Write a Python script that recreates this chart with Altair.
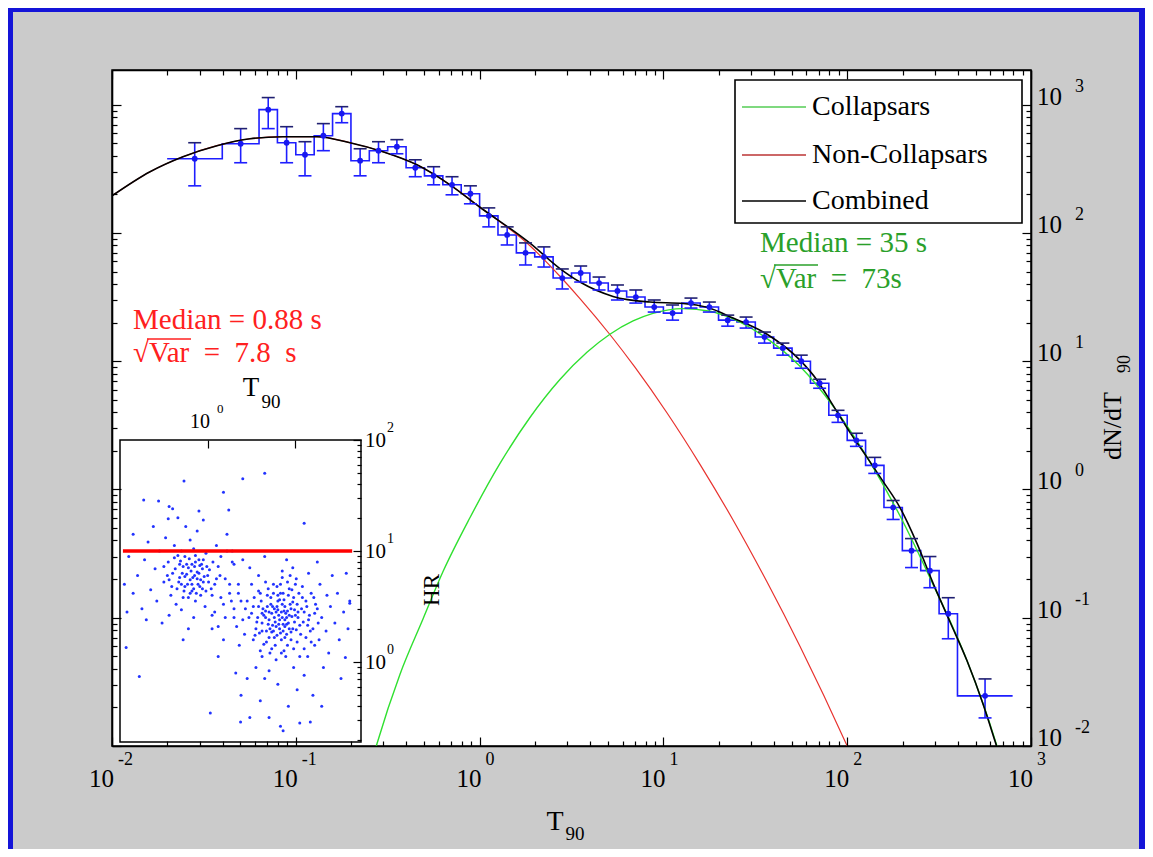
import altair as alt
import pandas as pd

SERIF = "Liberation Serif"
W, H = 919, 676          # plot area in pixels

BLUE = "#1e1eff"
PT_BLUE = "#1818f0"
RED_CURVE = "#e8322e"
GREEN_CURVE = "#30e030"
GREEN_TXT = "#2aa02a"
RED_TXT = "#ff2020"
PAGE_GRAY = "#cbcbcb"
FRAME_BLUE = "#1414d8"
SP = "\u2002"            # en space, keeps the wide spacing of the original annotations

# ---------------- histogram (log10 values) ----------------
bin_edges_log10 = [-1.7, -1.4, -1.2, -1.1, -1.0, -0.9, -0.8, -0.7, -0.6, -0.5, -0.4, -0.3,
                   -0.2, -0.1, 0.0, 0.1, 0.2, 0.3, 0.4, 0.5, 0.6, 0.7, 0.8, 0.9, 1.0, 1.1,
                   1.2, 1.3, 1.4, 1.5, 1.6, 1.7, 1.8, 1.9, 2.0, 2.1, 2.2, 2.3, 2.4, 2.5, 2.6, 2.9]
bin_centers_log10 = [-1.55, -1.3, -1.15, -1.05, -0.95, -0.85, -0.75, -0.65, -0.55, -0.45, -0.35,
                     -0.25, -0.15, -0.05, 0.05, 0.15, 0.25, 0.35, 0.45, 0.55, 0.65, 0.75, 0.85,
                     0.95, 1.05, 1.15, 1.25, 1.35, 1.45, 1.55, 1.65, 1.75, 1.85, 1.95, 2.05, 2.15,
                     2.25, 2.35, 2.45, 2.55, 2.75]
rate_log10 = [2.578, 2.695, 2.961, 2.703, 2.609, 2.758, 2.930, 2.563, 2.641, 2.672, 2.508,
              2.445, 2.375, 2.305, 2.133, 1.984, 1.844, 1.813, 1.648, 1.688, 1.609, 1.547, 1.500,
              1.422, 1.375, 1.453, 1.422, 1.320, 1.305, 1.188, 1.102, 1.000, 0.828, 0.578, 0.383,
              0.188, -0.141, -0.477, -0.633, -0.969, -1.609]
rate_hi_log10 = [2.703, 2.813, 3.055, 2.828, 2.711, 2.852, 2.984, 2.656, 2.711, 2.727, 2.570,
                 2.516, 2.438, 2.367, 2.195, 2.047, 1.922, 1.891, 1.719, 1.742, 1.656, 1.594, 1.555,
                 1.477, 1.438, 1.492, 1.461, 1.359, 1.344, 1.227, 1.141, 1.047, 0.859, 0.617, 0.438,
                 0.250, -0.086, -0.383, -0.523, -0.844, -1.477]
rate_lo_log10 = [2.367, 2.547, 2.813, 2.547, 2.445, 2.641, 2.859, 2.445, 2.547, 2.617, 2.438,
                 2.375, 2.297, 2.227, 2.047, 1.906, 1.750, 1.734, 1.563, 1.617, 1.555, 1.477, 1.453,
                 1.383, 1.320, 1.414, 1.383, 1.273, 1.258, 1.141, 1.047, 0.945, 0.789, 0.523, 0.336,
                 0.125, -0.234, -0.609, -0.766, -1.164, -1.781]

# ---------------- model curves (log10 T90, log10 dN/dT90) ----------------
combined_log_t = [-2.0, -1.793, -1.614, -1.429, -1.249, -1.070, -0.885, -0.705, -0.526, -0.341,
                  -0.161, 0.002, 0.274, 0.437, 0.546, 0.726, 0.927, 1.107, 1.237, 1.379, 1.564,
                  1.743, 1.836, 1.923, 2.015, 2.108, 2.195, 2.287, 2.380, 2.467, 2.559, 2.652,
                  2.739, 2.804, 2.85]
combined_log_n = [2.289, 2.477, 2.594, 2.680, 2.734, 2.750, 2.750, 2.703, 2.633, 2.531, 2.375,
                  2.200, 1.920, 1.722, 1.617, 1.505, 1.461, 1.450, 1.420, 1.336, 1.210, 1.008,
                  0.852, 0.656, 0.445, 0.250, 0.063, -0.141, -0.422, -0.730, -1.031, -1.336,
                  -1.672, -1.961, -2.17]
noncoll_log_t = [-2.0, -1.793, -1.614, -1.429, -1.249, -1.070, -0.885, -0.705, -0.526, -0.341,
                 -0.161, 0.002, 0.274, 0.437, 0.546, 0.709, 0.845, 1.02, 1.199, 1.379, 1.564,
                 1.743, 2.0, 2.05]
noncoll_log_n = [2.289, 2.477, 2.594, 2.680, 2.734, 2.750, 2.750, 2.703, 2.633, 2.531, 2.375,
                 2.200, 1.900, 1.662, 1.488, 1.208, 0.953, 0.596, 0.196, -0.238, -0.722, -1.222,
                 -2.0, -2.16]
coll_log_t = [-0.60, -0.558, -0.433, -0.308, -0.199, -0.052, 0.111, 0.274, 0.437, 0.584, 0.709,
              0.835, 0.943, 1.107, 1.254, 1.379, 1.564, 1.743, 1.923, 2.108, 2.287, 2.467, 2.652,
              2.804, 2.85]
coll_log_n = [-2.19, -1.98, -1.44, -1.01, -0.64, -0.219, 0.203, 0.561, 0.857, 1.069, 1.210,
              1.314, 1.373, 1.410, 1.389, 1.330, 1.176, 0.960, 0.650, 0.252, -0.205, -0.740, -1.336,
              -1.95, -2.17]

# ---------------- inset: log10 T90 vs log10 HR ----------------
short_log_t90 = [-0.15, -0.22, -0.05, -0.30, -0.10, -0.40, 0.02, -0.18, -0.26, -0.08,
                 -0.35, -0.12, -0.20, 0.08, -0.45, -0.02, -0.28, -0.16, 0.12, -0.50,
                 -0.38, -0.06, -0.24, 0.05, -0.60, -0.14, -0.32, 0.15, -0.42, -0.09,
                 -0.55, -0.20, 0.20, -0.65, -0.03, -0.30, 0.10, -0.48, -0.72, 0.25,
                 -0.12, -0.36, -0.80, 0.00, -0.25, 0.18, -0.58, -0.44, 0.30, -0.68,
                 -0.85, -0.05, -0.16, 0.28, -0.52, -0.90, 0.35, -0.75, -0.34, 0.05,
                 -0.62, 0.22, -0.95, -0.22, 0.38, -0.40, -0.10, -0.70, 0.40, -0.85,
                 -0.28, 0.12, -0.56, 0.30, -0.92, -0.18, -0.32, -0.08, -0.44, 0.06,
                 -0.26, -0.14, -0.38, -0.02, -0.22, 0.14, -0.50, -0.30, -0.06, -0.18,
                 -0.17, -0.24, -0.11, -0.29, -0.07, -0.33, -0.13, -0.21, -0.04, -0.27,
                 -0.19, -0.09, -0.31, -0.15, 0.01, -0.23, -0.37, -0.12, -0.26, -0.05,
                 -0.41, -0.16, -0.01, -0.20, -0.34, -0.10, 0.04, -0.28, -0.46, -0.14]
short_log_hr = [0.78, 0.85, 0.72, 0.70, 0.92, 0.80, 0.83, 0.64, 0.95, 0.60,
                0.66, 0.81, 0.74, 0.70, 0.90, 0.98, 0.58, 1.02, 0.86, 0.72,
                1.05, 0.66, 0.79, 0.60, 0.84, 0.55, 0.88, 0.95, 0.60, 0.87,
                1.00, 1.10, 0.75, 0.65, 0.50, 0.47, 1.05, 1.12, 0.92, 0.62,
                1.18, 0.52, 0.78, 0.78, 1.22, 0.52, 0.55, 0.42, 0.88, 1.08,
                0.62, 1.28, 0.40, 1.00, 0.35, 0.95, 0.70, 0.48, 1.30, 0.42,
                1.22, 1.15, 0.70, 0.30, 0.55, 1.38, 1.36, 0.38, 0.92, 1.15,
                0.20, 0.32, 1.45, 0.40, 0.45, 0.88, 0.76, 0.74, 0.74, 0.90,
                0.68, 0.96, 0.94, 0.64, 0.58, 0.78, 0.86, 1.00, 0.84, 0.70,
                0.76, 0.88, 0.70, 0.80, 0.88, 0.72, 0.62, 0.93, 0.77, 0.64,
                0.82, 0.68, 0.91, 0.86, 0.72, 0.70, 0.84, 0.75, 0.77, 0.92,
                0.68, 0.66, 0.86, 0.62, 0.96, 0.80, 0.66, 0.86, 0.78, 0.90]
long_log_t90 = [0.85, 0.78, 0.92, 0.70, 1.00, 0.82, 0.88, 0.75, 0.95, 0.66,
                1.05, 0.80, 0.90, 0.72, 1.10, 0.62, 0.98, 0.84, 0.68, 1.15,
                0.76, 0.93, 0.86, 0.80, 0.97, 0.74, 0.89, 1.02, 0.64, 0.83,
                1.20, 0.58, 0.91, 1.08, 0.70, 0.55, 1.25, 0.79, 0.96, 1.12,
                0.60, 0.50, 1.30, 0.87, 0.73, 1.18, 0.45, 1.00, 0.66, 1.35,
                0.52, 1.22, 0.40, 0.94, 1.40, 0.78, 0.35, 1.05, 0.58, 1.28,
                0.42, 1.45, 0.30, 0.85, 0.62, 1.15, 1.50, 0.25, 0.98, 0.48,
                1.38, 0.20, 1.55, 0.70, 0.36, 1.25, 0.15, 1.10, 0.55, 1.48,
                0.28, 0.90, 1.60, 0.10, 0.80, 1.32, 0.45, 1.62, 0.18, 1.02,
                0.65, 1.42, 0.08, 0.38, 1.20, 0.92, 0.60, 0.70, 1.05, 0.48,
                0.86, 1.30, 0.32, 1.52, 0.22, 0.05, 1.58, 0.12, 0.82, 0.88,
                0.76, 0.94, 0.71, 1.03, 0.87, 0.79, 0.99, 0.68, 0.84, 0.90,
                0.81, 0.77, 0.95, 1.07, 0.73, 0.86, 0.92, 0.62, 1.12, 0.57,
                1.17, 0.67, 1.02, 0.83, 0.53, 1.22, 0.89, 0.75, 0.60, 0.43,
                1.27, 0.97, 0.33, 1.36, 0.50, 1.14, 0.65, 0.27,
                0.81, 0.74, 0.91, 0.69, 1.01, 0.85, 0.78, 0.96, 0.63, 1.09,
                0.88, 0.72, 1.04, 0.59, 0.93, 0.77, 1.13, 0.66, 0.83, 0.99,
                0.86, 0.70, 1.06, 0.61, 0.90, 0.75, 1.16, 0.56, 0.95, 0.80,
                1.21, 0.64, 0.87, 1.01, 0.73, 0.52, 1.10, 0.84, 0.69, 0.97,
                1.26, 0.47, 0.91, 0.79, 1.03, 0.58, 1.18, 0.67, 0.88, 0.76,
                0.93, 1.08, 0.62, 0.82, 1.14, 0.71, 0.98, 0.54, 1.23, 0.85]
long_log_hr = [0.40, 0.45, 0.35, 0.38, 0.42, 0.30, 0.50, 0.28, 0.48, 0.46,
               0.33, 0.55, 0.25, 0.52, 0.45, 0.35, 0.58, 0.20, 0.60, 0.38,
               0.40, 0.42, 0.34, 0.47, 0.30, 0.33, 0.44, 0.52, 0.42, 0.62,
               0.30, 0.50, 0.15, 0.58, 0.22, 0.30, 0.48, 0.68, 0.65, 0.22,
               0.62, 0.44, 0.40, 0.10, 0.12, 0.62, 0.55, 0.70, 0.72, 0.28,
               0.20, 0.15, 0.38, 0.78, 0.50, 0.02, 0.62, 0.05, 0.78, 0.70,
               0.25, 0.35, 0.48, 0.82, 0.05, 0.80, 0.20, 0.70, -0.05, 0.85,
               0.08, 0.40, 0.45, -0.08, 0.15, 0.90, 0.58, -0.12, -0.05, 0.62,
               0.90, 0.92, 0.30, 0.75, -0.20, -0.05, -0.15, 0.55, 0.20, -0.25,
               0.95, 0.78, 0.45, -0.30, -0.30, -0.40, -0.35, -0.50, -0.55, -0.50,
               -0.62, -0.40, -0.10, -0.15, 1.00, 0.30, 0.80, 0.05, 0.38, 0.32,
               0.48, 0.52, 0.30, 0.40, 0.56, 0.24, 0.36, 0.50, 0.45, 0.40,
               0.34, 0.36, 0.27, 0.48, 0.44, 0.28, 0.60, 0.28, 0.55, 0.40,
               0.28, 0.18, 0.18, 0.70, 0.58, 0.44, 0.05, 0.62, 0.10, 0.48,
               0.20, 0.85, 0.32, 0.60, 0.70, 0.05, -0.15, 0.55,
               0.42, 0.50, 0.46, 0.34, 0.29, 0.52, 0.32, 0.41, 0.48, 0.36,
               0.22, 0.58, 0.62, 0.26, 0.66, 0.15, 0.50, 0.40, 0.26, 0.47,
               0.62, 0.45, 0.25, 0.55, 0.34, 0.70, 0.42, 0.36, 0.20, 0.60,
               0.58, 0.16, 0.46, 0.75, 0.27, 0.50, 0.12, 0.08, 0.66, 0.54,
               0.35, 0.40, 0.72, 0.50, 0.45, 0.64, 0.18, 0.28, 0.38, 0.22,
               0.30, 0.68, 0.44, 0.56, 0.33, 0.08, 0.12, 0.24, 0.52, 0.76]
outlier_log_t90 = [-0.27, 0.40, 0.65, 0.18, -0.73, 1.10, -0.78, 0.03, 0.375, 0.83, 1.17,
                   -0.45, -0.44, 1.62, -0.93, 1.57, 0.24]
outlier_log_hr = [1.63, 1.65, 1.70, 1.53, 1.46, 1.25, -0.13, -0.46, -0.54, -0.58, -0.54,
                  1.29, 1.40, 0.53, 0.13, 0.04, 1.37]
hr_cut = 10.0
hr_cut_t90 = [0.108, 44.4]

# ---------------- tick labels ----------------
major_values = [0.01, 0.1, 1, 10, 100, 1000]
major_exponents = ["-2", "-1", "0", "1", "2", "3"]
inset_hr_values = [1, 10, 100]
inset_hr_exponents = ["0", "1", "2"]
minor_values = [m * 10.0 ** k for k in range(-2, 3) for m in range(1, 10)] + [1000.0]
inset_hr_ticks = [m * 10.0 ** k for k in range(-1, 2) for m in range(1, 10)] + [100.0]
inset_hr_ticks = [v for v in inset_hr_ticks if v >= 0.19]


def p10(v):
    return [10.0 ** a for a in v]


step_df = pd.DataFrame({"t": p10(bin_edges_log10), "n": p10(rate_log10 + [rate_log10[-1]])})
err_df = pd.DataFrame({"t": p10(bin_centers_log10), "n": p10(rate_log10),
                       "lo": p10(rate_lo_log10), "hi": p10(rate_hi_log10)})
comb_df = pd.DataFrame({"t": p10(combined_log_t), "n": p10(combined_log_n)})
ncol_df = pd.DataFrame({"t": p10(noncoll_log_t), "n": p10(noncoll_log_n)})
coll_df = pd.DataFrame({"t": p10(coll_log_t), "n": p10(coll_log_n)})
inset_df = pd.DataFrame({"t": p10(short_log_t90 + long_log_t90 + outlier_log_t90),
                         "hr": p10(short_log_hr + long_log_hr + outlier_log_hr)})
cut_df = pd.DataFrame({"t0": [hr_cut_t90[0]], "t1": [hr_cut_t90[1]], "hr": [hr_cut]})
major_df = pd.DataFrame({"v": major_values, "e": major_exponents})
inset_lab_df = pd.DataFrame({"v": inset_hr_values, "e": inset_hr_exponents})
one = pd.DataFrame({"a": [0]})

xs = alt.Scale(type="log", domain=[0.01, 1000], nice=False)
ys = alt.Scale(type="log", domain=[0.01, 10 ** 3.27], nice=False)
xin = alt.Scale(type="log", domain=[0.1, 56], range=[8, 249], nice=False)
yin = alt.Scale(type="log", domain=[0.19, 100], range=[672, 370], nice=False)

MAJOR = "abs(log(datum.value)/LN10 - round(log(datum.value)/LN10)) < 0.001"


def tick_axis(orient, offset, values, major=9, minor=5, domain=True):
    return alt.Axis(orient=orient, offset=offset, values=values, labels=False, title=None,
                    grid=False, ticks=True, domain=domain, domainColor="black", domainWidth=1.6,
                    tickColor="black", tickWidth=1.2,
                    tickSize={"condition": {"test": MAJOR, "value": major}, "value": minor},
                    zindex=1)


def box(x, x2, y, y2, **kw):
    return alt.Chart(one).mark_rect(**kw).encode(
        x=alt.value(x), x2=alt.value(x2), y=alt.value(y), y2=alt.value(y2))


def hline(x, x2, y, color, width):
    return alt.Chart(one).mark_rule(color=color, strokeWidth=width).encode(
        x=alt.value(x), x2=alt.value(x2), y=alt.value(y))


def label(s, x, y, size, color="black", align="left", angle=0):
    kw = dict(text=s, font=SERIF, fontSize=size, color=color, align=align, baseline="middle")
    if angle:
        kw["angle"] = angle
    return alt.Chart(one).mark_text(**kw).encode(x=alt.value(x), y=alt.value(y))


# ---------------- main panel ----------------
step_line = alt.Chart(step_df).mark_line(interpolate="step-after", color=BLUE, strokeWidth=1.6,
                                         clip=True).encode(
    x=alt.X("t:Q", scale=xs, axis=tick_axis("top", -H, minor_values)),
    y=alt.Y("n:Q", scale=ys, axis=tick_axis("right", -W, minor_values)))
err_bars = alt.Chart(err_df).mark_rule(color=BLUE, strokeWidth=1.6).encode(
    x=alt.X("t:Q", scale=xs, axis=tick_axis("bottom", -H, minor_values)),
    y=alt.Y("lo:Q", scale=ys, axis=tick_axis("left", -W, minor_values)),
    y2="hi:Q")
cap_hi = alt.Chart(err_df).mark_tick(orient="horizontal", size=13, thickness=1.6,
                                     color="#202070", opacity=1).encode(
    x=alt.X("t:Q", scale=xs, axis=None), y=alt.Y("hi:Q", scale=ys, axis=None))
cap_lo = alt.Chart(err_df).mark_tick(orient="horizontal", size=13, thickness=1.6,
                                     color=BLUE, opacity=1).encode(
    x=alt.X("t:Q", scale=xs, axis=None), y=alt.Y("lo:Q", scale=ys, axis=None))
pts = alt.Chart(err_df).mark_circle(size=34, color=PT_BLUE, opacity=1).encode(
    x=alt.X("t:Q", scale=xs, axis=None), y=alt.Y("n:Q", scale=ys, axis=None))


def curve(df, color, width):
    return alt.Chart(df).mark_line(color=color, strokeWidth=width, interpolate="monotone",
                                   clip=True).encode(
        x=alt.X("t:Q", scale=xs, axis=None), y=alt.Y("n:Q", scale=ys, axis=None))


red_c = curve(ncol_df, RED_CURVE, 1.2)
green_c = curve(coll_df, GREEN_CURVE, 1.4)
black_c = curve(comb_df, "black", 1.6)

x10 = alt.Chart(major_df).mark_text(text="10", font=SERIF, fontSize=25, align="right",
                                    baseline="middle", dx=2).encode(
    x=alt.X("v:Q", scale=xs, axis=None), y=alt.value(H + 33))
xexp = alt.Chart(major_df).mark_text(font=SERIF, fontSize=18, align="left",
                                     baseline="middle", dx=6).encode(
    x=alt.X("v:Q", scale=xs, axis=None), y=alt.value(H + 14), text="e:N")
y10 = alt.Chart(major_df).mark_text(text="10", font=SERIF, fontSize=25, align="left",
                                    baseline="middle", dy=-8).encode(
    x=alt.value(W + 6), y=alt.Y("v:Q", scale=ys, axis=None))
yexp = alt.Chart(major_df).mark_text(font=SERIF, fontSize=18, align="left",
                                     baseline="middle", dy=-18).encode(
    x=alt.value(W + 44), y=alt.Y("v:Q", scale=ys, axis=None), text="e:N")

main = alt.layer(step_line, err_bars, red_c, green_c, black_c, cap_hi, cap_lo, pts,
                 x10, xexp, y10, yexp).resolve_axis(x="independent", y="independent")

# ---------------- inset ----------------
frame = box(8, 249, 370, 672, fill="white", stroke="black", strokeWidth=1.5)
scat = alt.Chart(inset_df).mark_circle(size=9, color="#2233ff", opacity=1).encode(
    x=alt.X("t:Q", scale=xin, axis=tick_axis("bottom", 370 - H, [1, 10], 8, 4, False)),
    y=alt.Y("hr:Q", scale=yin, axis=tick_axis("left", -249, inset_hr_ticks, 8, 4, False)))
cut = alt.Chart(cut_df).mark_rule(color="#ff0000", strokeWidth=3.5).encode(
    x=alt.X("t0:Q", scale=xin, axis=None), x2="t1:Q", y=alt.Y("hr:Q", scale=yin, axis=None))
in10 = alt.Chart(inset_lab_df).mark_text(text="10", font=SERIF, fontSize=21, align="left",
                                         baseline="middle", dy=1).encode(
    x=alt.value(253), y=alt.Y("v:Q", scale=yin, axis=None))
inexp = alt.Chart(inset_lab_df).mark_text(font=SERIF, fontSize=14, align="left",
                                          baseline="middle", dy=-12).encode(
    x=alt.value(275), y=alt.Y("v:Q", scale=yin, axis=None), text="e:N")
inset = alt.layer(frame, scat, cut, in10, inexp).resolve_axis(x="independent", y="independent")

# ---------------- decorations: page frame, legend, annotations, titles ----------------
deco = [
    box(-104, -99, -62, 779, fill=FRAME_BLUE),
    box(-104, 1033, -62, -58, fill=FRAME_BLUE),
    box(1027, 1033, -62, 779, fill=FRAME_BLUE),
    # legend
    box(623, 910, 10, 153, fill="white", stroke="black", strokeWidth=1.6),
    hline(630, 694, 37, "#55cc55", 1.5),
    hline(630, 694, 85, "#bb3535", 1.5),
    hline(630, 694, 131, "black", 1.5),
    label("Collapsars", 700, 37, 28),
    label("Non-Collapsars", 700, 85, 28),
    label("Combined", 700, 131, 28),
    # annotations
    label("Median = 35 s", 648, 173, 29, GREEN_TXT),
    label("\u221aVar" + SP + "=" + SP + "73s", 648, 209, 29, GREEN_TXT),
    hline(662, 706, 195, GREEN_TXT, 1.3),
    label("Median = 0.88 s", 21, 250, 29, RED_TXT),
    label("\u221aVar" + SP + "=" + SP + "7.8" + SP + "s", 21, 283, 29, RED_TXT),
    hline(35, 79, 269, RED_TXT, 1.3),
    # axis titles
    label("T", 443, 752, 28, align="center"),
    label("90", 463, 764, 19, align="center"),
    label("dN/dT", 1001, 356, 26, align="center", angle=270),
    label("90", 1013, 294, 18, align="center", angle=270),
    # inset titles / label
    label("T", 139, 318, 27, align="center"),
    label("90", 159, 332, 19, align="center"),
    label("10", 98, 352, 20, align="right"),
    label("0", 105, 339, 13),
    label("HR", 320, 520, 23, align="center", angle=270),
]

chart = alt.layer(main, inset, *deco).resolve_scale(
    x="independent", y="independent").resolve_axis(x="independent", y="independent").properties(
    width=W, height=H,
    autosize=alt.AutoSizeParams(type="none"),
    padding={"left": 104, "top": 62, "right": 114, "bottom": 103},
).configure(background=PAGE_GRAY).configure_view(fill="white", stroke="black", strokeWidth=1.5)

chart.save("out.html", embed_options={"renderer": "svg", "actions": False})
